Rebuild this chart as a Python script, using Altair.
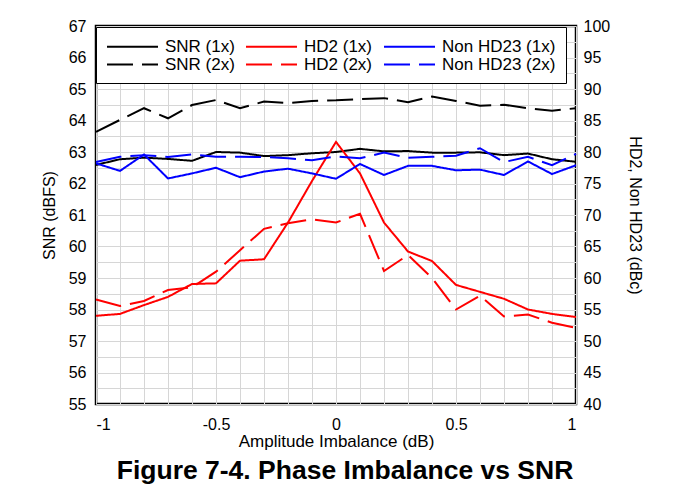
import altair as alt
import pandas as pd

x_vals = [-1.0, -0.9, -0.8, -0.7, -0.6, -0.5, -0.4, -0.3, -0.2, -0.1, 0.0,
          0.1, 0.2, 0.3, 0.4, 0.5, 0.6, 0.7, 0.8, 0.9, 1.0]

snr_1x = [62.59, 62.77, 62.82, 62.78, 62.72, 63.0, 62.98, 62.87, 62.9, 62.96, 63.0,
          63.1, 63.02, 63.03, 62.98, 62.98, 62.99, 62.9, 62.95, 62.77, 62.69]
snr_2x = [63.64, 64.02, 64.39, 64.07, 64.49, 64.65, 64.39, 64.6, 64.55, 64.62, 64.64,
          64.68, 64.71, 64.58, 64.76, 64.62, 64.47, 64.5, 64.39, 64.31, 64.39]
hd2_1x = [54.0, 54.3, 55.7, 57.0, 59.05, 59.15, 62.75, 62.97, 68.8, 75.4, 81.6,
          76.6, 68.8, 64.2, 62.7, 58.9, 57.8, 56.7, 55.0, 54.3, 53.8]
hd2_2x = [56.6, 55.55, 56.35, 58.1, 58.5, 61.0, 64.4, 67.8, 68.7, 69.3, 68.8,
          70.2, 61.1, 63.65, 60.0, 55.0, 57.2, 53.9, 54.2, 52.9, 52.1]
nonhd23_1x = [78.2, 77.0, 79.6, 75.8, 76.6, 77.5, 76.0, 76.9, 77.35, 76.6, 75.75,
              78.1, 76.35, 77.8, 77.8, 77.1, 77.2, 76.35, 78.5, 76.5, 77.9]
nonhd23_2x = [78.4, 79.25, 79.5, 79.2, 79.6, 79.25, 79.25, 79.2, 79.0, 78.7, 79.3,
              79.0, 79.9, 79.1, 79.25, 79.4, 80.6, 78.4, 79.25, 77.9, 79.7]

# legend fills column by column: (1x, 2x) pairs per column
series_names = ["SNR (1x)", "SNR (2x)", "HD2 (1x)", "HD2 (2x)",
                "Non HD23 (1x)", "Non HD23 (2x)"]
series_colors = ["#000000", "#000000", "#ff0000", "#ff0000", "#0000ff", "#0000ff"]
series_dash = [[1, 0], [26, 9], [1, 0], [26, 9], [1, 0], [26, 9]]

left_ticks = [55 + 0.5 * i for i in range(25)]
right_ticks = [40, 45, 50, 55, 60, 65, 70, 75, 80, 85, 90, 95, 100]

rows = []
for name, vals, side in [("SNR (1x)", snr_1x, "L"), ("SNR (2x)", snr_2x, "L"),
                         ("HD2 (1x)", hd2_1x, "R"), ("HD2 (2x)", hd2_2x, "R"),
                         ("Non HD23 (1x)", nonhd23_1x, "R"), ("Non HD23 (2x)", nonhd23_2x, "R")]:
    for xv, v in zip(x_vals, vals):
        rows.append({"x": xv, "value": v, "series": name, "side": side})
df = pd.DataFrame(rows)

FONT = "Liberation Sans"

x_enc = alt.X("x:Q", scale=alt.Scale(domain=[-1, 1], nice=False),
              axis=alt.Axis(values=x_vals, title="Amplitude Imbalance (dB)",
                            labelExpr="abs(datum.value*2 - round(datum.value*2)) < 0.001 ? '' + datum.value : ''",
                            grid=True, ticks=False, domain=False, labelPadding=12,
                            titlePadding=1, titleFontSize=17))

legend_kw = dict(title=None, orient="none", legendX=0, legendY=1,
                 columns=3, symbolType="M-1,0H5", symbolSize=289,
                 symbolStrokeWidth=2, labelFontSize=17, labelFont=FONT,
                 labelLimit=300, columnPadding=7, rowPadding=0,
                 padding=10, fillColor="white", strokeColor="black",
                 labelOffset=40)

color_enc = alt.Color("series:N", scale=alt.Scale(domain=series_names, range=series_colors),
                      legend=alt.Legend(**legend_kw))
dash_enc = alt.StrokeDash("series:N", scale=alt.Scale(domain=series_names, range=series_dash),
                          legend=alt.Legend(**legend_kw))

left = alt.Chart(df).transform_filter(alt.datum.side == "L").mark_line(strokeWidth=2).encode(
    x=x_enc,
    y=alt.Y("value:Q", scale=alt.Scale(domain=[55, 67], nice=False, zero=False),
            axis=alt.Axis(values=left_ticks, title="SNR (dBFS)", orient="left",
                          labelExpr="datum.value % 1 == 0 ? '' + datum.value : ''",
                          grid=True, ticks=False, domain=False, labelPadding=10,
                          titlePadding=11)),
    color=color_enc,
    strokeDash=dash_enc,
    detail="series:N",
)

right = alt.Chart(df).transform_filter(alt.datum.side == "R").mark_line(strokeWidth=2).encode(
    x=x_enc,
    y=alt.Y("value:Q", scale=alt.Scale(domain=[40, 100], nice=False, zero=False),
            axis=alt.Axis(values=right_ticks, title="HD2, Non HD23 (dBc)", orient="right",
                          grid=False, ticks=False, domain=False, labelPadding=7,
                          titlePadding=17)),
    color=color_enc,
    strokeDash=dash_enc,
    detail="series:N",
)

chart = alt.layer(left, right).resolve_scale(y="independent").properties(
    width=480, height=378,
    autosize=alt.AutoSizeParams(type="none"),
    padding={"left": 88, "top": 18, "right": 90, "bottom": 82},
    title=alt.TitleParams("Figure 7-4. Phase Imbalance vs SNR", orient="bottom",
                          anchor="middle", fontSize=26.5, fontWeight="bold", font=FONT,
                          offset=9, dx=9, color="black"),
).configure_view(stroke="black", strokeWidth=2.5).configure_axis(
    labelFont=FONT, titleFont=FONT, labelFontSize=16, titleFontSize=16,
    labelColor="black", titleColor="black", titleFontWeight="normal",
    gridColor="#d6d6d6", gridWidth=1, gridOpacity=1,
)

chart.save("out.html", embed_options={"renderer": "svg", "actions": False})
